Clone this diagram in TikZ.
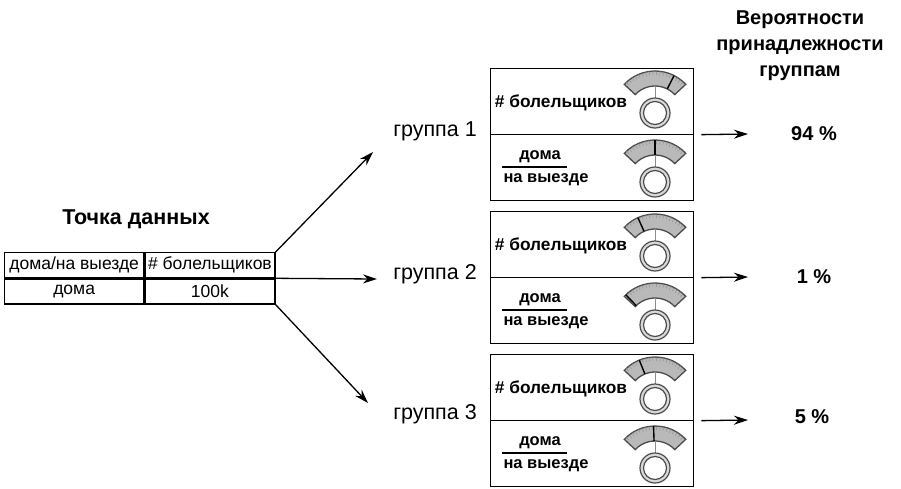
\documentclass[tikz,border=0pt]{standalone}
\usepackage{fontspec}
\setmainfont{Liberation Sans}
\usetikzlibrary{
    arrows.meta,
    calc,
    positioning
}

% dial: x, y, needle angle
\newcommand{\dial}[3]{%
    \draw[black!70, fill=gray!55]
    (#1, #2) ++(43:27) arc[start angle=43, end angle=137, radius=27]
    -- ++(137:15) arc[start angle=137, end angle=43, radius=42] -- cycle;
    \foreach \a in {48, 53, ..., 133}
        \draw[black!45, line width=0.4pt] (#1, #2) ++(\a:38) -- ++(\a:4);
    \draw[black!45, line width=0.5pt] (#1, #2) ++(90:15) -- ++(90:12);
    \draw[line width=1.4pt] (#1, #2) ++(#3:27) -- ++(#3:15);
    \draw[black!70, line width=1.2pt, fill=gray!30, even odd rule]
    (#1, #2) circle (15) (#1, #2) circle (11.5);
}

\begin{document}
\begin{tikzpicture}[x=1pt, y=1pt, line width=1.3pt,
    cell/.style={draw, inner sep=0pt, minimum height=25, font=\fontsize{17.5}{17.5}\selectfont},
    grpbox/.style={draw, inner sep=0pt, minimum width=203, minimum height=132, anchor=north west},
    arr/.style={-{Stealth[length=14pt, width=9pt]}},
    bold/.style={font=\fontsize{#1}{#1}\selectfont\bfseries},
    plain/.style={font=\fontsize{21.5}{21.5}\selectfont}]
    \useasboundingbox (0, 0) rectangle (901, -488);

    % data point
    \node[bold=21.5] (title) at (136, -219) {Точка данных};
    \node[cell, minimum width=139, anchor=north west] (hdrHome) at (4, -252) {дома/на выезде};
    \node[cell, minimum width=130, anchor=north west] (hdrFans) at (hdrHome.north east) {\# болельщиков};
    \node[cell, minimum width=139, anchor=north west] (valHome) at (hdrHome.south west) {дома};
    \node[cell, minimum width=130, anchor=north west] (valFans) at (hdrFans.south west) {100k};

    % header on the right
    \node[align=center, font=\fontsize{20}{26}\selectfont\bfseries] (probs) at (800, -46)
        {Вероятности\\принадлежности\\группам};

    \begin{scope}[shift={(0, 0)}]
        \node[grpbox] (box1) at (490, -68) {};
        \draw (box1.west) -- (box1.east);
        \node[plain] (grp1) at (435, -131) {группа 1};
        \node[bold=17.3] (fans1) at (561, -103) {\# болельщиков};
        \node[bold=16.5] (home1) at (540, -157) {дома};
        \node[bold=16.5] (away1) at (546, -180) {на выезде};
        \draw (502, -167) -- (567, -167);
        \dial{655}{-113}{63}
        \dial{655}{-182}{90}
        \node[bold=20] (pct1) at (814, -134) {94 \%};
        \coordinate (out1) at (748, -134);
        \draw[arr] ($(box1.east)+(7, 0)$) -- (out1);
    \end{scope}

    \begin{scope}[shift={(0, -143)}]
        \node[grpbox] (box2) at (490, -68) {};
        \draw (box2.west) -- (box2.east);
        \node[plain] (grp2) at (435, -131) {группа 2};
        \node[bold=17.3] (fans2) at (561, -103) {\# болельщиков};
        \node[bold=16.5] (home2) at (540, -157) {дома};
        \node[bold=16.5] (away2) at (546, -180) {на выезде};
        \draw (502, -167) -- (567, -167);
        \dial{655}{-113}{114}
        \dial{655}{-182}{134}
        \node[bold=20] (pct2) at (814, -134) {1 \%};
        \coordinate (out2) at (748, -134);
        \draw[arr] ($(box2.east)+(7, 0)$) -- (out2);
    \end{scope}

    \begin{scope}[shift={(0, -286)}]
        \node[grpbox] (box3) at (490, -68) {};
        \draw (box3.west) -- (box3.east);
        \node[plain] (grp3) at (435, -128) {группа 3};
        \node[bold=17.3] (fans3) at (561, -103) {\# болельщиков};
        \node[bold=16.5] (home3) at (540, -157) {дома};
        \node[bold=16.5] (away3) at (546, -180) {на выезде};
        \draw (502, -167) -- (567, -167);
        \dial{655}{-113}{112}
        \dial{655}{-182}{92}
        \node[bold=20] (pct3) at (812, -131) {5 \%};
        \coordinate (out3) at (748, -134);
        \draw[arr] ($(box3.east)+(7, 0)$) -- (out3);
    \end{scope}

    % arrows to the groups
    \coordinate (tip1) at (373, -152);
    \coordinate (tip2) at (377, -279);
    \coordinate (tip3) at (368, -403);
    \draw[arr] (hdrFans.north east) -- (tip1);
    \draw[arr] (hdrFans.south east) -- (tip2);
    \draw[arr] (valFans.south east) -- (tip3);
\end{tikzpicture}
\end{document}
